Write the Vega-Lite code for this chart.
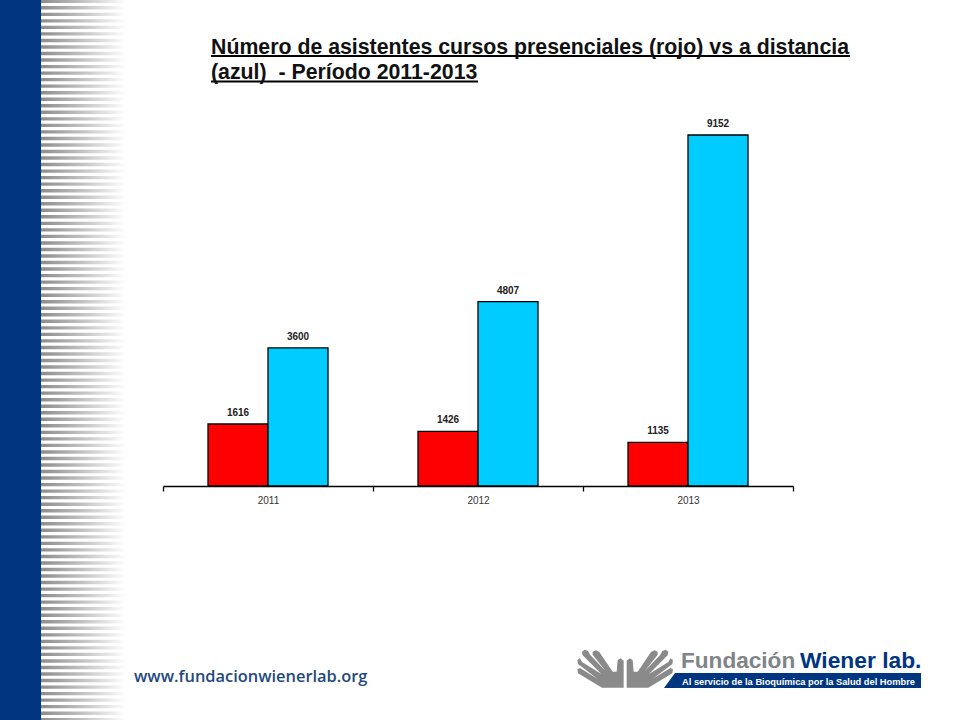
{"$schema":"https://vega.github.io/schema/vega-lite/v6.json","width":630,"height":351,"autosize":{"type":"none"},"padding":{"left":163,"top":135,"right":167,"bottom":234},"background":"white","config":{"view":{"stroke":null}},"title":{"text":["Número de asistentes cursos presenciales (rojo) vs a distancia","(azul) \u00a0- Período 2011-2013"],"anchor":"start","frame":"group","dx":48,"offset":-83.5,"font":"Liberation Sans","fontSize":21.3,"fontWeight":"bold","color":"#111111","lineHeight":25},"resolve":{"scale":{"x":"independent","y":"independent"},"axis":{"x":"independent"}},"layer":[{"data":{"values":[{"stripe":1},{"stripe":2},{"stripe":3},{"stripe":4},{"stripe":5},{"stripe":6},{"stripe":7},{"stripe":8},{"stripe":9},{"stripe":10},{"stripe":11},{"stripe":12},{"stripe":13},{"stripe":14},{"stripe":15},{"stripe":16},{"stripe":17},{"stripe":18},{"stripe":19},{"stripe":20},{"stripe":21},{"stripe":22},{"stripe":23},{"stripe":24},{"stripe":25},{"stripe":26},{"stripe":27},{"stripe":28},{"stripe":29},{"stripe":30},{"stripe":31},{"stripe":32},{"stripe":33},{"stripe":34},{"stripe":35},{"stripe":36},{"stripe":37},{"stripe":38},{"stripe":39},{"stripe":40},{"stripe":41},{"stripe":42},{"stripe":43},{"stripe":44},{"stripe":45},{"stripe":46},{"stripe":47},{"stripe":48},{"stripe":49},{"stripe":50},{"stripe":51},{"stripe":52},{"stripe":53},{"stripe":54},{"stripe":55},{"stripe":56},{"stripe":57},{"stripe":58},{"stripe":59},{"stripe":60},{"stripe":61},{"stripe":62},{"stripe":63},{"stripe":64},{"stripe":65},{"stripe":66},{"stripe":67},{"stripe":68},{"stripe":69},{"stripe":70},{"stripe":71},{"stripe":72},{"stripe":73},{"stripe":74},{"stripe":75},{"stripe":76},{"stripe":77},{"stripe":78},{"stripe":79},{"stripe":80},{"stripe":81},{"stripe":82},{"stripe":83},{"stripe":84},{"stripe":85},{"stripe":86},{"stripe":87},{"stripe":88},{"stripe":89},{"stripe":90},{"stripe":91},{"stripe":92},{"stripe":93},{"stripe":94},{"stripe":95},{"stripe":96},{"stripe":97},{"stripe":98},{"stripe":99},{"stripe":100},{"stripe":101},{"stripe":102},{"stripe":103},{"stripe":104},{"stripe":105},{"stripe":106},{"stripe":107},{"stripe":108},{"stripe":109},{"stripe":110},{"stripe":111}]},"mark":{"type":"rect","color":{"gradient":"linear","x1":0,"y1":0,"x2":1,"y2":0,"stops":[{"offset":0,"color":"#8c8c8c"},{"offset":0.5,"color":"#c4c4c4"},{"offset":1,"color":"#ffffff"}]}},"encoding":{"x":{"datum":41,"type":"quantitative","axis":null,"scale":{"domain":[0,960],"range":[-163,797],"zero":false,"nice":false}},"x2":{"datum":126},"y":{"field":"stripe","type":"ordinal","axis":null,"scale":{"type":"band","range":[-137,588],"paddingInner":0.48,"paddingOuter":0.24}}}},{"layer":[{"data":{"values":[{"element":"sidebar"}]},"mark":{"type":"rect","color":"#003580"},"encoding":{"x":{"datum":0,"type":"quantitative","axis":null,"scale":{"domain":[0,960],"range":[-163,797],"zero":false,"nice":false}},"x2":{"datum":41},"y":{"datum":0,"type":"quantitative","axis":null,"scale":{"domain":[0,720],"range":[-135,585],"zero":false,"nice":false}},"y2":{"datum":720}}},{"data":{"values":[{"element":"underline 1"}]},"mark":{"type":"rule","color":"#000000","strokeWidth":2},"encoding":{"x":{"datum":211,"type":"quantitative"},"x2":{"datum":850},"y":{"datum":56,"type":"quantitative"}}},{"data":{"values":[{"element":"underline 2"}]},"mark":{"type":"rule","color":"#000000","strokeWidth":2},"encoding":{"x":{"datum":211,"type":"quantitative"},"x2":{"datum":478},"y":{"datum":81.5,"type":"quantitative"}}},{"data":{"values":[{"label":"www.fundacionwienerlab.org"}]},"mark":{"type":"text","align":"left","baseline":"alphabetic","font":"Open Sans","fontSize":16.4,"fontWeight":600,"color":"#1f497d"},"encoding":{"x":{"datum":134,"type":"quantitative"},"y":{"datum":682,"type":"quantitative"},"text":{"field":"label"}}},{"data":{"values":[{"element":"hands"}]},"mark":{"type":"point","filled":true,"opacity":1,"color":"#8a8a8a","strokeWidth":0,"size":9216,"shape":"M-0.028 0.41L-0.028 -0.153L-0.09 -0.201L-0.153 -0.167L-0.174 0.076L-0.257 0.076L-0.535 -0.333L-0.604 -0.368L-0.674 -0.34L-0.674 -0.278L-0.41 0.056L-0.729 -0.278L-0.771 -0.354L-0.84 -0.382L-0.896 -0.34L-0.882 -0.264L-0.493 0.125L-0.896 -0.125L-0.938 -0.201L-0.993 -0.167L-0.979 -0.083L-0.576 0.222L-0.938 0L-0.993 0.028L-0.979 0.111L-0.479 0.41ZM0.035 0.41L0.035 -0.153L0.097 -0.201L0.16 -0.167L0.181 0.076L0.264 0.076L0.542 -0.333L0.611 -0.368L0.681 -0.34L0.681 -0.278L0.417 0.056L0.736 -0.278L0.778 -0.354L0.847 -0.382L0.903 -0.34L0.889 -0.264L0.5 0.125L0.903 -0.125L0.945 -0.201L1 -0.167L0.986 -0.083L0.583 0.222L0.945 0L1 0.028L0.986 0.111L0.486 0.41Z"},"encoding":{"x":{"datum":625,"type":"quantitative"},"y":{"datum":668,"type":"quantitative"}}},{"data":{"values":[{"label":"Fundación"}]},"mark":{"type":"text","align":"left","baseline":"alphabetic","font":"Liberation Sans","fontSize":22.6,"fontWeight":"bold","color":"#7f8489"},"encoding":{"x":{"datum":681,"type":"quantitative"},"y":{"datum":668,"type":"quantitative"},"text":{"field":"label"}}},{"data":{"values":[{"label":"Wiener lab."}]},"mark":{"type":"text","align":"left","baseline":"alphabetic","font":"Liberation Sans","fontSize":22.8,"fontWeight":"bold","color":"#003580"},"encoding":{"x":{"datum":800,"type":"quantitative"},"y":{"datum":668,"type":"quantitative"},"text":{"field":"label"}}},{"data":{"values":[{"element":"banner"}]},"mark":{"type":"point","filled":true,"opacity":1,"color":"#003580","strokeWidth":0,"size":66049,"shape":"M-1 0.058L-0.914 -0.058L1 -0.058L1 0.058Z"},"encoding":{"x":{"datum":792.5,"type":"quantitative"},"y":{"datum":680.5,"type":"quantitative"}}},{"data":{"values":[{"label":"Al servicio de la Bioquímica por la Salud del Hombre"}]},"mark":{"type":"text","align":"left","baseline":"alphabetic","font":"Liberation Sans","fontSize":9.3,"fontWeight":"bold","color":"#ffffff"},"encoding":{"x":{"datum":682,"type":"quantitative"},"y":{"datum":684.5,"type":"quantitative"},"text":{"field":"label"}}}]},{"data":{"values":[{"year":"2011","modalidad":"presenciales","asistentes":1616},{"year":"2011","modalidad":"a distancia","asistentes":3600},{"year":"2012","modalidad":"presenciales","asistentes":1426},{"year":"2012","modalidad":"a distancia","asistentes":4807},{"year":"2013","modalidad":"presenciales","asistentes":1135},{"year":"2013","modalidad":"a distancia","asistentes":9152}]},"encoding":{"x":{"field":"year","type":"nominal","scale":{"paddingInner":0,"paddingOuter":0},"axis":{"title":null,"orient":"bottom","labelAngle":0,"tickBand":"extent","domainColor":"#000000","domainWidth":1.3,"tickColor":"#000000","tickWidth":1.3,"tickSize":5,"labelFont":"Liberation Sans","labelFontSize":10,"labelColor":"#333333","labelPadding":4,"grid":false}},"xOffset":{"field":"modalidad","type":"nominal","sort":["presenciales","a distancia"],"scale":{"domain":["presenciales","a distancia"],"paddingInner":0,"paddingOuter":0.75}},"y":{"field":"asistentes","type":"quantitative","axis":null,"scale":{"domain":[0,9152],"nice":false}}},"layer":[{"mark":{"type":"bar","stroke":"#000000","strokeWidth":1.3},"encoding":{"color":{"field":"modalidad","type":"nominal","legend":null,"scale":{"domain":["presenciales","a distancia"],"range":["#ff0000","#00ccff"]}}}},{"mark":{"type":"text","baseline":"alphabetic","dy":-8,"font":"Liberation Sans","fontSize":10,"fontWeight":"bold","color":"#222222"},"encoding":{"text":{"field":"asistentes","type":"quantitative","format":"d"}}}]}]}
